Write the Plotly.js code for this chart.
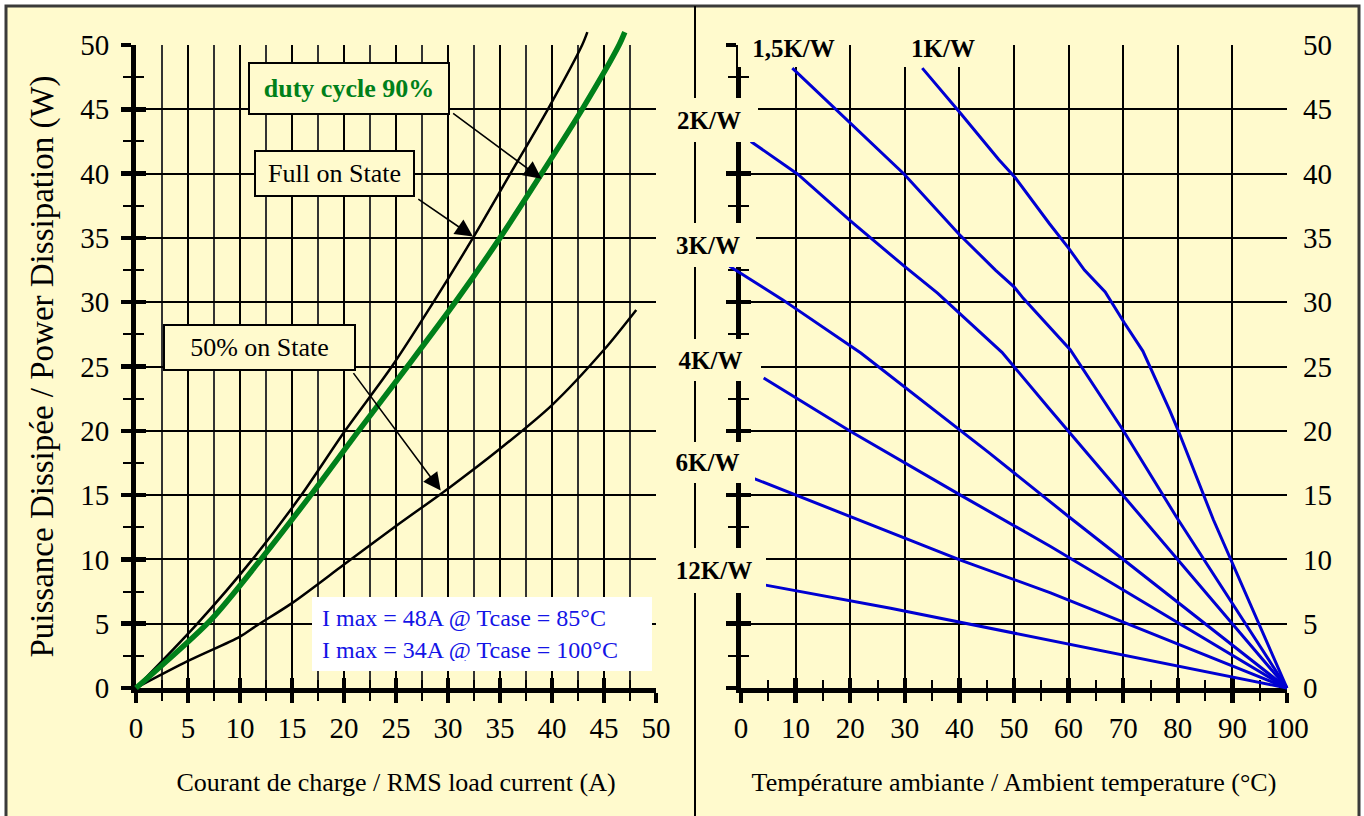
<!DOCTYPE html>
<html>
<head>
<meta charset="utf-8">
<script src="https://cdn.plot.ly/plotly-3.0.1.min.js"></script>
<style>
html,body{margin:0;padding:0;background:#fff;}
#chart{width:1364px;height:816px;}
</style>
</head>
<body>
<div id="chart"></div>
<script>
// ---------------- DATA ----------------
// Left chart: power dissipation vs RMS load current
const fullOnI  = [0, 5.9, 11.2, 15.9, 20.1, 24.6, 28.6, 32.4, 36.0, 39.6, 42.9, 43.4];
const fullOnP  = [0, 5, 10, 15, 20, 25, 30, 35, 40, 45, 50, 51.0];
const duty90I  = [0, 7.2, 12.0, 16.8, 21.4, 26.1, 30.7, 35.0, 39.0, 42.9, 46.45, 47.0];
const duty90P  = [0, 5.3, 10, 15, 20, 25, 30, 35, 40, 45, 50, 51.0];
const half50I  = [0, 5, 10, 11.5, 15, 20, 25, 30, 35, 40, 45, 48.1];
const half50P  = [0, 2.1, 4.0, 4.8, 6.6, 9.6, 12.6, 15.5, 18.6, 22.0, 26.3, 29.4];

// Right chart: heatsink thermal resistance lines (ambient temperature vs power)
const rthLabels = ['1,5K/W', '1K/W', '2K/W', '3K/W', '4K/W', '6K/W', '12K/W'];
const rth1T   = [33.2, 40.2, 47.2, 50.2, 56.5, 60.0, 62.9, 66.7, 70.2, 73.6, 78.5, 80.1, 86.5, 100];
const rth1P   = [48.2, 44.7, 41.1, 39.7, 36.1, 34.2, 32.5, 30.8, 28.4, 26.2, 21.6, 20.0, 13.1, 0];
const rth15T  = [9.4, 29.9, 39.9, 46.6, 50.0, 51.7, 60.3, 69.9, 79.75, 100];
const rth15P  = [48.2, 39.95, 35.3, 32.5, 31.2, 30.3, 26.3, 20.1, 13.3, 0];
const rth2T   = [1.8, 10.4, 20.1, 29.9, 36.0, 47.8, 56.7, 69.9, 100];
const rth2P   = [42.5, 39.95, 36.3, 32.8, 30.7, 26.1, 21.6, 15.0, 0];
const rth3T   = [-2.1, 7.6, 21.95, 45.4, 60.1, 100];
const rth3P   = [32.8, 30.2, 26.05, 18.3, 13.3, 0];
const rth4T   = [4.15, 20.1, 40.2, 56.7, 100];
const rth4P   = [24.1, 19.95, 15.0, 11.0, 0];
const rth6T   = [2.3, 20.1, 40.2, 56.7, 100];
const rth6P   = [16.3, 13.3, 9.95, 7.4, 0];
const rth12T  = [4.5, 27.4, 100];
const rth12P  = [8.0, 6.2, 0];

const imaxLines = ['I max = 48A @ Tcase = 85°C', 'I max = 34A @ Tcase = 100°C'];

// ---------------- LAYOUT HELPERS ----------------
const W = 1364, H = 816;
const M = {l:100, r:40, t:10, b:100};
const PW = W - M.l - M.r, PH = H - M.t - M.b;
const px = v => (v - M.l) / PW;
const py = v => (H - M.b - v) / PH;

const LF = {x0:136, x1:656, y0:688, y1:45, xr:[0,50],  yr:[0,50]};
const RF = {x0:741, x1:1287, y0:688, y1:45, xr:[0,100], yr:[0,50]};
function xdom(f, r){ const k=(f.x1-f.x0)/(f.xr[1]-f.xr[0]); return [px(f.x0+(r[0]-f.xr[0])*k), px(f.x0+(r[1]-f.xr[0])*k)]; }
function ydom(f, r){ const k=(f.y0-f.y1)/(f.yr[1]-f.yr[0]); return [py(f.y0-(r[0]-f.yr[0])*k), py(f.y0-(r[1]-f.yr[0])*k)]; }

const serif = '"Liberation Serif", "Times New Roman", Times, serif';
const BG = '#FFFACD';
const GREEN = '#00801A';
const BLUE = '#0000D2';
const tickFont = {family:serif, size:29, color:'#000'};

function gridAxis(extra){
  return Object.assign({showline:true, linecolor:'#000', linewidth:5, zeroline:false,
    ticks:'outside', ticklen:10, tickwidth:4.5, tickcolor:'#000',
    showgrid:true, gridcolor:'#000', gridwidth:2, tickfont:tickFont, fixedrange:true}, extra);
}
function innerTicks(extra){
  return Object.assign({showline:false, zeroline:false, showgrid:false, showticklabels:false,
    ticks:'inside', ticklen:10, tickwidth:4.5, tickcolor:'#000', fixedrange:true}, extra);
}
function minorT(dt, side, grid){
  const o = {dtick:dt, ticks:side, ticklen:8, tickwidth:2, tickcolor:'#000', showgrid:!!grid};
  if (grid){ o.gridcolor = '#333'; o.gridwidth = 1.5; }
  return o;
}

const layout = {
  width:W, height:H, margin:M, showlegend:false,
  paper_bgcolor:'#fff', plot_bgcolor:'rgba(0,0,0,0)',
  font:{family:serif, color:'#000'},
  // left grid
  xaxis: gridAxis({domain:xdom(LF,LF.xr), range:LF.xr, anchor:'y', tick0:0, dtick:5, ticklabelstandoff:0,
    minor:minorT(2.5,'outside',true),
    title:{text:'Courant de charge / RMS load current (A)', font:{family:serif,size:26,color:'#000'}, standoff:32}}),
  yaxis: gridAxis({domain:ydom(LF,LF.yr), range:LF.yr, anchor:'x', tick0:0, dtick:5, ticklabelstandoff:6,
    minor:minorT(2.5,'outside',false),
    title:{text:'Puissance Dissipée / Power Dissipation (W)', font:{family:serif,size:33,color:'#000'}, standoff:18}}),
  xaxis5: innerTicks({overlaying:'x', anchor:'y', range:LF.xr, tick0:0, dtick:5, minor:minorT(2.5,'inside',false)}),
  yaxis5: innerTicks({overlaying:'y', anchor:'x', range:LF.yr, tick0:0, dtick:5, minor:minorT(2.5,'inside',false)}),
  // right grid
  xaxis2: gridAxis({domain:xdom(RF,RF.xr), range:RF.xr, anchor:'y2', tick0:0, dtick:10, ticklabelstandoff:0,
    minor:minorT(5,'outside',false),
    title:{text:'Température ambiante / Ambient temperature (°C)', font:{family:serif,size:26,color:'#000'}, standoff:32}}),
  yaxis2: gridAxis({domain:ydom(RF,RF.yr), range:RF.yr, anchor:'x2', side:'left', tick0:0, dtick:5,
    showticklabels:false, minor:minorT(2.5,'outside',false)}),
  xaxis6: innerTicks({overlaying:'x2', anchor:'y2', range:RF.xr, tick0:0, dtick:10, minor:minorT(5,'inside',false)}),
  yaxis6: innerTicks({overlaying:'y2', anchor:'x2', side:'left', range:RF.yr, tick0:0, dtick:5, minor:minorT(2.5,'inside',false)}),
  yaxis7: {overlaying:'y2', anchor:'x2', side:'right', range:RF.yr, tick0:0, dtick:5, ticks:'',
    showline:false, showgrid:false, zeroline:false, tickfont:tickFont, ticklabelstandoff:15, fixedrange:true},
  // curve subplots (same scales, slightly larger windows so curves are not clipped at the frame)
  xaxis3: {domain:xdom(LF,[-1,51]), range:[-1,51], visible:false, anchor:'y3', fixedrange:true},
  yaxis3: {domain:ydom(LF,[-1,51.5]), range:[-1,51.5], visible:false, anchor:'x3', fixedrange:true},
  xaxis4: {domain:xdom(RF,[-3,101]), range:[-3,101], visible:false, anchor:'y4', fixedrange:true},
  yaxis4: {domain:ydom(RF,[-1,51]), range:[-1,51], visible:false, anchor:'x4', fixedrange:true},
  shapes: [
    {type:'rect', xref:'paper', yref:'paper', layer:'below',
     x0:px(6), x1:px(1359), y0:py(830), y1:py(6), fillcolor:BG, line:{color:'#3a3a3a', width:3}},
    {type:'line', xref:'paper', yref:'paper', layer:'below',
     x0:px(695), x1:px(695), y0:py(830), y1:py(6), line:{color:'#000', width:2}}
  ],
  annotations: []
};

const A = layout.annotations;
// left panel boxed labels
A.push({xref:'x', yref:'y', x:20.48, y:46.62, text:'<b>duty cycle 90%</b>', showarrow:false,
  font:{family:serif, size:26, color:GREEN}, bgcolor:BG, bordercolor:'#000', borderwidth:2, borderpad:0, width:198, height:49});
A.push({xref:'x', yref:'y', x:19.04, y:40.0, text:'Full on State', showarrow:false,
  font:{family:serif, size:26, color:'#000'}, bgcolor:BG, bordercolor:'#000', borderwidth:2, borderpad:0, width:157, height:43});
A.push({xref:'x', yref:'y', x:11.86, y:26.5, text:'50% on State', showarrow:false,
  font:{family:serif, size:26, color:'#000'}, bgcolor:BG, bordercolor:'#000', borderwidth:2, borderpad:0, width:189, height:43});
A.push({xref:'x', yref:'y', x:33.27, y:4.2, text:imaxLines.join('<br>'), showarrow:false, align:'left',
  font:{family:serif, size:24, color:'#1414E6'}, bgcolor:'#fff', borderwidth:0, borderpad:10, width:320, height:54});
// arrows
function arrow(x, y, ax, ay){
  return {xref:'x', yref:'y', axref:'x', ayref:'y', x:x, y:y, ax:ax, ay:ay, text:'', showarrow:true,
    arrowhead:2, arrowsize:2.2, arrowwidth:1.6, arrowcolor:'#000', standoff:0, startstandoff:0};
}
A.push(arrow(39.0, 39.6, 30.35, 44.77));
A.push(arrow(32.4, 35.1, 27.0, 38.1));
A.push(arrow(29.3, 15.35, 20.8, 24.6));

// right panel labels (boxes in background colour, hiding grid / axis underneath)
const rthBoxes = [
  {cx:793.5, cy:48.5, w:111, h:37},
  {cx:943,   cy:48.5, w:112, h:37},
  {cx:709,   cy:120,  w:98,  h:44},
  {cx:708,   cy:245,  w:96,  h:44},
  {cx:710.5, cy:360,  w:101, h:42},
  {cx:707.5, cy:462.5,w:95,  h:41},
  {cx:714,   cy:570.5,w:104, h:45}
];
rthLabels.forEach((lab, i) => {
  const b = rthBoxes[i];
  A.push({xref:'paper', yref:'paper', x:px(b.cx), y:py(b.cy), xanchor:'center', yanchor:'middle',
    text:'<b>'+lab+'</b>', showarrow:false, font:{family:serif, size:25, color:'#000'},
    bgcolor:BG, borderwidth:0, borderpad:0, width:b.w, height:b.h});
});

// ---------------- TRACES ----------------
const empty = (xa, ya) => ({type:'scatter', mode:'lines', x:[], y:[], xaxis:xa, yaxis:ya, hoverinfo:'skip', showlegend:false});
const ln = (x, y, xa, ya, color, width, name, smooth) => ({type:'scatter', mode:'lines', x:x, y:y, xaxis:xa, yaxis:ya,
  name:name, line:smooth ? {color:color, width:width, shape:'spline', smoothing:0.8} : {color:color, width:width},
  hoverinfo:'skip', showlegend:false});

const data = [
  empty('x','y'), empty('x5','y5'),
  empty('x2','y2'), empty('x6','y6'), empty('x2','y7'),
  ln(half50I, half50P, 'x3','y3', '#000', 2.5, '50% on State', true),
  ln(fullOnI, fullOnP, 'x3','y3', '#000', 2.5, 'Full on State', true),
  ln(duty90I, duty90P, 'x3','y3', GREEN, 5.5, 'duty cycle 90%', true),
  ln(rth1T,  rth1P,  'x4','y4', BLUE, 3, '1K/W'),
  ln(rth15T, rth15P, 'x4','y4', BLUE, 3, '1,5K/W'),
  ln(rth2T,  rth2P,  'x4','y4', BLUE, 3, '2K/W'),
  ln(rth3T,  rth3P,  'x4','y4', BLUE, 3, '3K/W'),
  ln(rth4T,  rth4P,  'x4','y4', BLUE, 3, '4K/W'),
  ln(rth6T,  rth6P,  'x4','y4', BLUE, 3, '6K/W'),
  ln(rth12T, rth12P, 'x4','y4', BLUE, 3, '12K/W')
];

Plotly.newPlot('chart', data, layout, {staticPlot:true, displayModeBar:false});
</script>
</body>
</html>
